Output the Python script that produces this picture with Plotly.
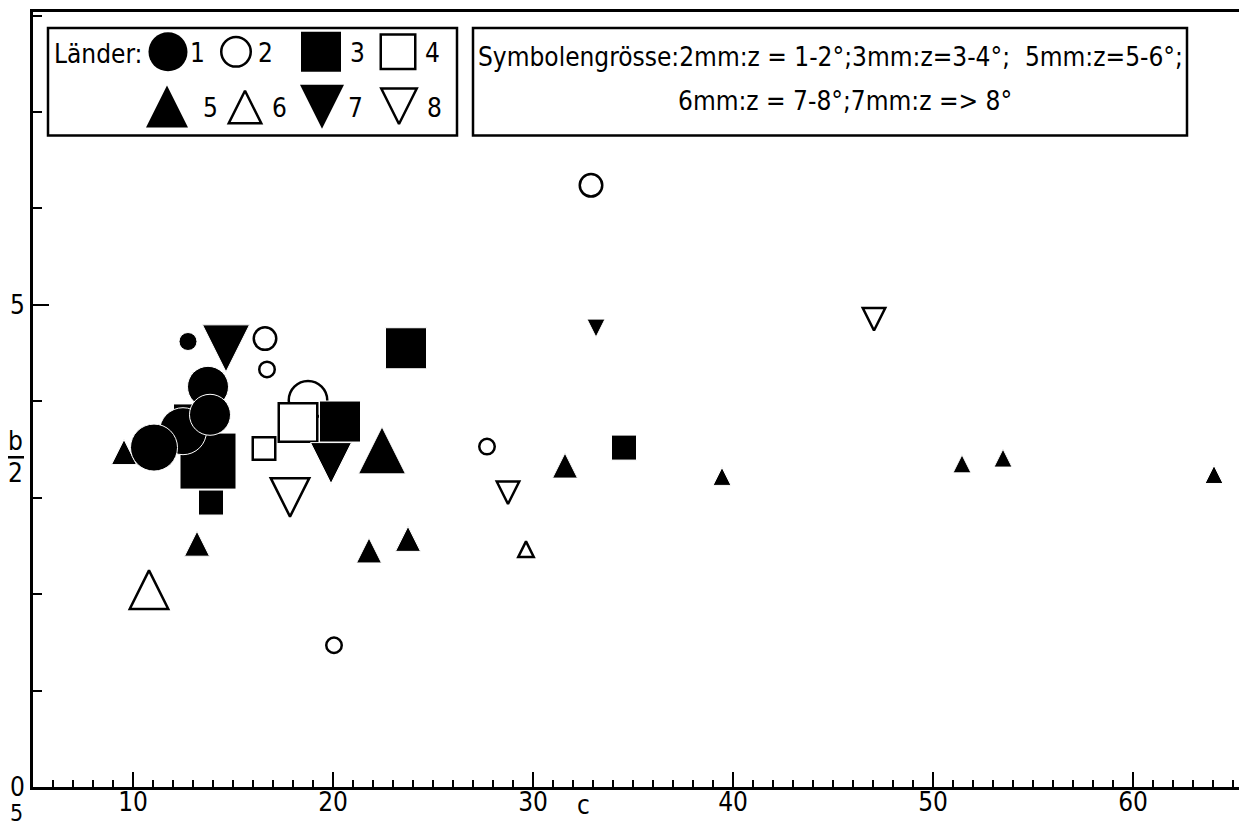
import plotly.graph_objects as go

# ---------------- data ----------------
# c (x), b/2 (y) and symbol-size class in mm (2mm: z=1-2, 3mm: z=3-4, 5mm: z=5-6, 6mm: z=7-8, 7mm: z>8)
land1_c = [12.5, 11.05, 13.75, 13.85, 12.75]
land1_b2 = [3.69, 3.52, 4.15, 3.86, 4.62]
land1_mm = [6, 6, 5, 5, 2]

land2_c = [16.6, 16.7, 18.75, 32.9, 27.7, 20.05]
land2_b2 = [4.65, 4.33, 4.01, 6.24, 3.53, 1.47]
land2_mm = [3, 2, 5, 3, 2, 2]

land3_c = [13.05, 13.9, 13.75, 20.35, 23.65, 34.55]
land3_b2 = [3.76, 2.95, 3.38, 3.79, 4.55, 3.52]
land3_mm = [5, 3, 7, 5, 5, 3]

land4_c = [18.25, 16.55]
land4_b2 = [3.78, 3.51]
land4_mm = [5, 3]

land5_c = [9.55, 22.45, 13.2, 21.8, 23.75, 31.6, 39.45, 51.45, 53.5, 64.05]
land5_b2 = [3.43, 3.41, 2.48, 2.41, 2.53, 3.29, 3.19, 3.32, 3.38, 3.21]
land5_mm = [3, 6, 3, 3, 3, 3, 2, 2, 2, 2]

land6_c = [10.8, 29.65]
land6_b2 = [1.98, 2.44]
land6_mm = [5, 2]

land7_c = [14.65, 19.9, 33.15]
land7_b2 = [4.63, 3.43, 4.79]
land7_mm = [6, 5, 2]

land8_c = [17.85, 28.75, 47.05]
land8_b2 = [3.07, 3.09, 4.89]
land8_mm = [5, 3, 3]

x_ticks = [10, 20, 30, 40, 50, 60]
y_ticks = [0, 5]
legend_labels = ["1", "2", "3", "4", "5", "6", "7", "8"]
size_text = ["Symbolengrösse:2mm:z = 1-2°;3mm:z=3-4°;  5mm:z=5-6°;",
             "6mm:z = 7-8°;7mm:z => 8°"]

# ---------------- styling / layout ----------------
PAGE_OFF = 8                            # default body margin of the html page
L, R, T, B = 33, 1240, 9, 787           # plot area in page pixels
W, H = 1247 - PAGE_OFF, 825 - PAGE_OFF
FONT = "Liberation Sans Narrow, DejaVu Sans Condensed, DejaVu Sans"
MM_PX = {2: 18, 3: 25, 5: 41, 6: 47, 7: 56}

# Triangles of the original are (nearly) equilateral. Plotly's arrow-head symbol
# has width == height == size; its tip sits on the point, so a standoff of 2/3
# of the size puts the triangle's centroid on the data point.
SYMBOLS = {
    "circle": dict(symbol="circle", angle=0),
    "square": dict(symbol="square", angle=0),
    "tri-up": dict(symbol="arrow-down", angle=180),
    "tri-down": dict(symbol="arrow-down", angle=0),
}


def sym_marker(kind, is_open, sizes, line_w_filled=1.0, line_col_filled="white"):
    spec = SYMBOLS[kind]
    if is_open:
        sizes = [s - 2.5 for s in sizes]
    m = dict(symbol=spec["symbol"], size=sizes, opacity=1,
             color="white" if is_open else "black",
             line=dict(color="black" if is_open else line_col_filled,
                       width=2.5 if is_open else line_w_filled))
    if kind.startswith("tri"):
        m["angle"] = spec["angle"]
        m["standoff"] = [2.0 * s / 3.0 for s in sizes]
    return m


fig = go.Figure()

# drawing order chosen to match overlaps in the original
series = [
    ("2", land2_c, land2_b2, land2_mm, "circle", True),
    ("3", land3_c, land3_b2, land3_mm, "square", False),
    ("5", land5_c, land5_b2, land5_mm, "tri-up", False),
    ("1", land1_c, land1_b2, land1_mm, "circle", False),
    ("4", land4_c, land4_b2, land4_mm, "square", True),
    ("6", land6_c, land6_b2, land6_mm, "tri-up", True),
    ("7", land7_c, land7_b2, land7_mm, "tri-down", False),
    ("8", land8_c, land8_b2, land8_mm, "tri-down", True),
]
for name, xs, ys, mm, kind, is_open in series:
    fig.add_trace(go.Scatter(
        x=xs, y=ys, mode="markers", name=name, showlegend=False,
        marker=sym_marker(kind, is_open, [MM_PX[m] for m in mm]),
        hoverinfo="x+y+name"))

# ---------------- legend box ("Länder") ----------------
leg_glyphs = [  # kind, open, x_px, y_px, size_px (page pixels)
    ("circle", False, 168, 49, 39),
    ("circle", True, 236, 49, 32),
    ("square", False, 321, 49, 40),
    ("square", True, 398, 49, 37),
    ("tri-up", False, 167, 104, 42),
    ("tri-up", True, 245, 104, 35),
    ("tri-down", False, 322, 104, 44),
    ("tri-down", True, 399, 104, 38),
]
leg_num_x = [197, 265, 357, 432, 210, 279, 355, 434]
leg_num_y = [50, 50, 50, 50, 105, 105, 105, 105]

for kind, is_open, gx, gy, gs in leg_glyphs:
    if kind == "tri-up":
        gy = gy + gs / 6.0          # centre of the box -> centroid
    elif kind == "tri-down":
        gy = gy - gs / 6.0
    fig.add_trace(go.Scatter(
        x=[gx], y=[gy], xaxis="x2", yaxis="y2", mode="markers",
        showlegend=False, hoverinfo="skip",
        marker=sym_marker(kind, is_open, [gs], line_w_filled=0)))


def px(x):
    return (x - L) / (R - L)


def py(y):
    return (B - y) / (B - T)


shapes = [
    dict(type="rect", xref="paper", yref="paper", x0=px(48), x1=px(457),
         y0=py(25), y1=py(133), line=dict(color="black", width=2.5),
         fillcolor="white", layer="below"),
    dict(type="rect", xref="paper", yref="paper", x0=px(473), x1=px(1187),
         y0=py(25), y1=py(133), line=dict(color="black", width=2.5),
         fillcolor="white", layer="below"),
    # fraction bar of the y label b/2
    dict(type="line", xref="paper", yref="paper", x0=px(7), x1=px(24),
         y0=py(456), y1=py(456), line=dict(color="black", width=2.5)),
]

TXT = dict(size=26, family=FONT, color="black")
annotations = [
    dict(text="Länder:", x=px(52), y=py(51), xanchor="left", yanchor="middle"),
    dict(text=size_text[0], x=px(830), y=py(54), xanchor="center", yanchor="middle"),
    dict(text=size_text[1], x=px(845), y=py(98), xanchor="center", yanchor="middle"),
    dict(text="b", x=px(15), y=py(440), xanchor="center", yanchor="middle"),
    dict(text="2", x=px(15), y=py(472), xanchor="center", yanchor="middle"),
    dict(text="c", x=32.5, xref="x", y=py(805), xanchor="center", yanchor="middle"),
    dict(text="5", x=px(16), y=py(813), xanchor="center", yanchor="middle",
         font=dict(size=23, family=FONT, color="black")),
]
for lab, nx, ny in zip(legend_labels, leg_num_x, leg_num_y):
    annotations.append(dict(text=lab, x=px(nx), y=py(ny), xanchor="center",
                            yanchor="middle"))
for a in annotations:
    a.setdefault("xref", "paper")
    a.setdefault("yref", "paper")
    a.setdefault("showarrow", False)
    a.setdefault("font", TXT)

TICKFONT = dict(size=26, family=FONT, color="black")
fig.update_layout(
    width=W, height=H,
    margin=dict(l=L - PAGE_OFF, r=1247 - R, t=T - PAGE_OFF, b=825 - B, pad=0),
    plot_bgcolor="white", paper_bgcolor="white",
    showlegend=False,
    shapes=shapes, annotations=annotations,
    xaxis=dict(range=[5, 5 + (R - L) / 20.0], tickvals=x_ticks,
               ticks="inside", ticklen=15, tickwidth=2, tickcolor="black",
               showline=True, linewidth=3, linecolor="black", mirror=True,
               showgrid=False, zeroline=False, ticklabelstandoff=-10,
               tickfont=TICKFONT,
               minor=dict(dtick=1, tick0=0, ticks="inside", ticklen=7,
                          tickwidth=1.5, tickcolor="black", showgrid=False)),
    yaxis=dict(range=[0, (B - T) / 96.8], tickvals=y_ticks,
               ticks="inside", ticklen=16, tickwidth=2, tickcolor="black",
               showline=True, linewidth=3, linecolor="black", mirror=True,
               showgrid=False, zeroline=False,
               tickfont=TICKFONT,
               minor=dict(dtick=1, tick0=0, ticks="inside", ticklen=9,
                          tickwidth=2, tickcolor="black", showgrid=False)),
    xaxis2=dict(overlaying="x", range=[L, R], visible=False, fixedrange=True),
    yaxis2=dict(overlaying="y", range=[B, T], visible=False, fixedrange=True),
)

fig.write_html("out.html")
